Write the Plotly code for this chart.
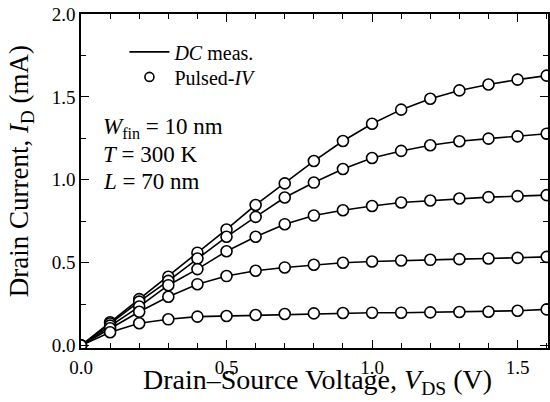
import plotly.graph_objects as go

vds = [0.0, 0.1, 0.2, 0.3, 0.4, 0.5, 0.6, 0.7, 0.8, 0.9, 1.0, 1.1, 1.2, 1.3, 1.4, 1.5, 1.6]
id_1 = [0.0, 0.14, 0.28, 0.415, 0.56, 0.70, 0.848, 0.978, 1.113, 1.234, 1.338, 1.423, 1.489, 1.539, 1.575, 1.604, 1.628]
id_2 = [0.0, 0.133, 0.265, 0.39, 0.525, 0.656, 0.776, 0.893, 0.983, 1.065, 1.131, 1.174, 1.208, 1.232, 1.248, 1.262, 1.278]
id_3 = [0.0, 0.12, 0.235, 0.364, 0.461, 0.569, 0.656, 0.732, 0.784, 0.816, 0.842, 0.863, 0.875, 0.887, 0.895, 0.901, 0.907]
id_4 = [0.0, 0.104, 0.204, 0.294, 0.37, 0.419, 0.451, 0.471, 0.487, 0.499, 0.507, 0.513, 0.517, 0.521, 0.525, 0.529, 0.535]
id_5 = [0.0, 0.08, 0.134, 0.158, 0.174, 0.178, 0.184, 0.19, 0.194, 0.196, 0.198, 0.198, 0.2, 0.202, 0.204, 0.21, 0.218]
curves = [id_1, id_2, id_3, id_4, id_5]

FONT = "Liberation Serif"
fig = go.Figure()
for i, c in enumerate(curves):
    fig.add_trace(go.Scatter(x=vds, y=c, mode="lines", line=dict(color="black", width=1.6),
                             showlegend=False, hoverinfo="skip"))
for i, c in enumerate(curves):
    fig.add_trace(go.Scatter(x=vds, y=c, mode="markers",
                             marker=dict(symbol="circle", size=11, color="white",
                                         line=dict(color="black", width=1.6)),
                             showlegend=False))
# legend entries
fig.add_trace(go.Scatter(x=[None], y=[None], mode="lines", line=dict(color="black", width=1.6),
                         name="<i>DC</i> meas.", legend="legend"))
fig.add_trace(go.Scatter(x=[None], y=[None], mode="markers",
                         marker=dict(symbol="circle", size=9, color="white",
                                     line=dict(color="black", width=1.6)),
                         name="Pulsed-<i>IV</i>", legend="legend2"))

axis_common = dict(showline=True, linecolor="black", linewidth=1.6, mirror="ticks",
                   ticks="inside", ticklen=8, tickwidth=1.4, tickcolor="black",
                   showgrid=False, zeroline=False,
                   tickfont=dict(family=FONT, size=19, color="black"))
leg_common = dict(xanchor="left", yanchor="top", bgcolor="rgba(0,0,0,0)",
                  font=dict(family=FONT, size=20, color="black"), itemwidth=40)
fig.update_layout(
    width=550, height=402,
    margin=dict(l=81, r=0, t=14, b=54),
    paper_bgcolor="white", plot_bgcolor="white",
    font=dict(family=FONT, color="black"),
    xaxis=dict(range=[0, 1.6045], dtick=0.5, tickformat=".1f", ticklabelstandoff=1,
               minor=dict(dtick=0.1, ticks="inside", ticklen=5, tickcolor="black", tickwidth=1.2),
               **axis_common),
    yaxis=dict(range=[-0.015, 2.0], dtick=0.5, tickformat=".1f",
               minor=dict(dtick=0.25, ticks="inside", ticklen=5, tickcolor="black", tickwidth=1.2),
               **axis_common),
    legend=dict(x=0.093, y=0.945, **leg_common),
    legend2=dict(x=0.093, y=0.87, **leg_common),
)
# axis titles
fig.add_annotation(text="Drain–Source Voltage, <i>V</i><sub>DS</sub> (V)", x=0.506, y=-0.158,
                   xref="paper", yref="paper", xanchor="center", yanchor="bottom", showarrow=False,
                   font=dict(family=FONT, size=28, color="black"))
fig.add_annotation(text="Drain Current, <i>I</i><sub>D</sub> (mA)", x=-0.128, y=0.53, textangle=-90,
                   xref="paper", yref="paper", xanchor="center", yanchor="middle", showarrow=False,
                   font=dict(family=FONT, size=27, color="black"))
ann = ["<i>W</i><sub>fin</sub> = 10 nm", "<i>T</i> = 300 K", "<i>L</i> = 70 nm"]
ys = [0.66, 0.58, 0.5]
for t, y in zip(ann, ys):
    fig.add_annotation(text=t, x=0.042, y=y, xref="paper", yref="paper", xanchor="left",
                       yanchor="middle", showarrow=False, font=dict(family=FONT, size=23, color="black"))
fig.write_html("out.html")
